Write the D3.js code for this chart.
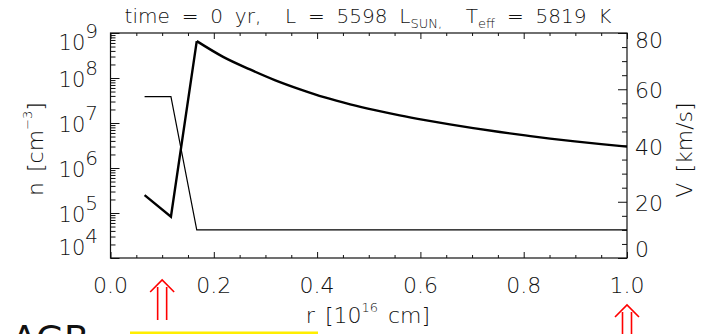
<!DOCTYPE html>
<html>
<head>
<meta charset="utf-8">
<script src="https://cdn.jsdelivr.net/npm/d3@7"></script>
<style>
body { margin: 0; background: #fff; }
text { font-family: "DejaVu Sans", sans-serif; font-weight: 200; fill: #111; }
</style>
</head>
<body>
<div id="chart"></div>
<script>
// radius [10^16 cm] and density n [cm^-3] (thick line, left log axis)
const radius  = [0.066, 0.117, 0.167, 0.218, 0.270, 0.318, 0.367, 0.415, 0.464, 0.512, 0.560, 0.609, 0.657, 0.706, 0.754, 0.803, 0.851, 0.899, 0.950, 1.0];
const density = [2.5e5, 8.3e4, 6.6e8, 2.95e8, 1.55e8, 9.0e7, 5.6e7, 3.7e7, 2.6e7, 1.93e7, 1.48e7, 1.16e7, 9.3e6, 7.6e6, 6.3e6, 5.3e6, 4.5e6, 3.9e6, 3.4e6, 2.99e6];
// wind velocity V [km/s] (thin line, right axis)
const velRadius = [0.066, 0.117, 0.167, 1.0];
const velocity  = [57.4, 57.4, 10, 10];

const xTicks = [0, 0.2, 0.4, 0.6, 0.8, 1.0];
const xMinor = [0.05, 0.1, 0.15, 0.25, 0.3, 0.35, 0.45, 0.5, 0.55, 0.65, 0.7, 0.75, 0.85, 0.9, 0.95];
const nExp = [4, 5, 6, 7, 8, 9];
const vTicks = [0, 20, 40, 60, 80];
const vMinor = [5, 10, 15, 25, 30, 35, 45, 50, 55, 65, 70, 75];
const arrowAt = [0.1, 1.0]; // red markers under the axis

const W = 707, H = 334;
const pLeft = 110.5, pRight = 627, pTop = 33, pBottom = 258;

const svg = d3.select("#chart").append("svg").attr("width", W).attr("height", H);

const x = d3.scaleLinear().domain([0, 1]).range([pLeft, pRight]);
const yN = d3.scaleLog().domain([1e4, 1e9]).range([pBottom, pTop]);
const yV = d3.scaleLinear().domain([0, 80]).range([pBottom, pTop]);

// log minor ticks 2..9 x 10^k
let nMinor = [];
for (let k = 4; k < 9; k++) for (let m = 2; m < 10; m++) nMinor.push(m * Math.pow(10, k));

function axisStyle(g) {
	g.select(".domain").remove();
	g.selectAll("line").attr("stroke", "#111").attr("stroke-width", 1);
}

// ticks (pointing inward)
svg.append("g").attr("transform", "translate(0," + pBottom + ")")
	.call(d3.axisBottom(x).tickValues(xTicks).tickSize(-6).tickFormat("")).call(axisStyle);
svg.append("g").attr("transform", "translate(0," + pBottom + ")")
	.call(d3.axisBottom(x).tickValues(xMinor).tickSize(-3).tickFormat("")).call(axisStyle);
svg.append("g").attr("transform", "translate(0," + pTop + ")")
	.call(d3.axisTop(x).tickValues(xTicks).tickSize(-6).tickFormat("")).call(axisStyle);
svg.append("g").attr("transform", "translate(0," + pTop + ")")
	.call(d3.axisTop(x).tickValues(xMinor).tickSize(-3).tickFormat("")).call(axisStyle);

svg.append("g").attr("transform", "translate(" + pLeft + ",0)")
	.call(d3.axisLeft(yN).tickValues(nExp.map(e => Math.pow(10, e))).tickSize(-9).tickFormat("")).call(axisStyle);
svg.append("g").attr("transform", "translate(" + pLeft + ",0)")
	.call(d3.axisLeft(yN).tickValues(nMinor).tickSize(-5).tickFormat("")).call(axisStyle);

svg.append("g").attr("transform", "translate(" + pRight + ",0)")
	.call(d3.axisRight(yV).tickValues(vTicks).tickSize(-9).tickFormat("")).call(axisStyle);
svg.append("g").attr("transform", "translate(" + pRight + ",0)")
	.call(d3.axisRight(yV).tickValues(vMinor).tickSize(-5).tickFormat("")).call(axisStyle);

svg.append("rect")
	.attr("x", pLeft).attr("y", pTop)
	.attr("width", pRight - pLeft).attr("height", pBottom - pTop)
	.attr("fill", "none").attr("stroke", "#111").attr("stroke-width", 1.2);

// tick labels
const clampY = (v, lo, hi) => Math.max(lo, Math.min(hi, v));

svg.selectAll(".xl").data(xTicks).enter().append("text")
	.attr("x", d => x(d)).attr("y", 293)
	.attr("text-anchor", "middle").attr("font-size", 22)
	.text(d => d.toFixed(1));

let nl = svg.selectAll(".nl").data(nExp).enter().append("text")
	.attr("x", 98).attr("y", d => clampY(yN(Math.pow(10, d)) + 9, 50, 255))
	.attr("text-anchor", "end").attr("font-size", 21);
nl.append("tspan").text("10");
nl.append("tspan").attr("dy", -12).attr("font-size", 20).text(d => d);

svg.selectAll(".vl").data(vTicks).enter().append("text")
	.attr("x", 635).attr("y", d => clampY(yV(d) + 9, 48, 257))
	.attr("font-size", 22)
	.text(d => d);

// data lines
let peak = density.indexOf(d3.max(density));

svg.append("path")
	.attr("d", d3.line().x(d => x(d[0])).y(d => yN(d[1]))(radius.slice(0, peak + 1).map((r, i) => [r, density[i]])))
	.attr("fill", "none").attr("stroke", "#000").attr("stroke-width", 2.4).attr("stroke-linejoin", "miter");
svg.append("path")
	.attr("d", d3.line().curve(d3.curveMonotoneX).x(d => x(d[0])).y(d => yN(d[1]))(radius.slice(peak).map((r, i) => [r, density[peak + i]])))
	.attr("fill", "none").attr("stroke", "#000").attr("stroke-width", 2.4);

svg.append("path")
	.attr("d", d3.line().x((d, i) => x(velRadius[i])).y(d => yV(d))(velocity))
	.attr("fill", "none").attr("stroke", "#000").attr("stroke-width", 1.2);

// title
let title = svg.append("text").attr("x", 368).attr("y", 23)
	.attr("text-anchor", "middle").attr("font-size", 20).attr("xml:space", "preserve")
	.style("word-spacing", "5.5px");
title.append("tspan").text("time = 0 yr,  L = 5598 L");
title.append("tspan").attr("font-size", 13).attr("dy", 5).text("SUN,");
title.append("tspan").attr("dy", -5).text("  T");
title.append("tspan").attr("font-size", 13).attr("dy", 5).text("eff");
title.append("tspan").attr("dy", -5).text(" = 5819 K");

// axis titles
let xt = svg.append("text").attr("x", 368).attr("y", 323)
	.attr("text-anchor", "middle").attr("font-size", 22).attr("xml:space", "preserve")
	.style("word-spacing", "3px");
xt.append("tspan").text("r [10");
xt.append("tspan").attr("font-size", 13).attr("dy", -11).text("16");
xt.append("tspan").attr("dy", 11).text(" cm]");

let nt = svg.append("text").attr("transform", "translate(43,149) rotate(-90)")
	.attr("text-anchor", "middle").attr("font-size", 22).attr("xml:space", "preserve")
	.style("word-spacing", "3px");
nt.append("tspan").text("n [cm");
nt.append("tspan").attr("font-size", 13).attr("dy", -11).text("\u22123");
nt.append("tspan").attr("dy", 11).text("]");

svg.append("text").attr("transform", "translate(692,150) rotate(-90)")
	.attr("text-anchor", "middle").attr("font-size", 22).attr("xml:space", "preserve")
	.style("word-spacing", "3px")
	.text("V [km/s]");

// red double arrows below the axis
const arrowTop = [280, 305];
arrowAt.forEach((r, i) => {
	let cx = x(r), t = arrowTop[i];
	let g = svg.append("g").attr("stroke", "#f00").attr("stroke-width", 1.6).attr("fill", "none");
	g.append("path").attr("d", "M" + (cx - 4.5) + "," + (t + 7) + "V" + (t + 40));
	g.append("path").attr("d", "M" + (cx + 4.5) + "," + (t + 7) + "V" + (t + 40));
	g.append("path").attr("d", "M" + (cx - 12) + "," + (t + 12) + "L" + cx + "," + t + "L" + (cx + 12) + "," + (t + 12));
});

// pieces of the slide underneath
svg.append("rect").attr("x", 130).attr("y", 331.5).attr("width", 188).attr("height", 3).attr("fill", "#ffee00");
svg.append("text").attr("x", 12).attr("y", 351).attr("font-size", 36).style("font-weight", 400).text("AGB");
</script>
</body>
</html>
